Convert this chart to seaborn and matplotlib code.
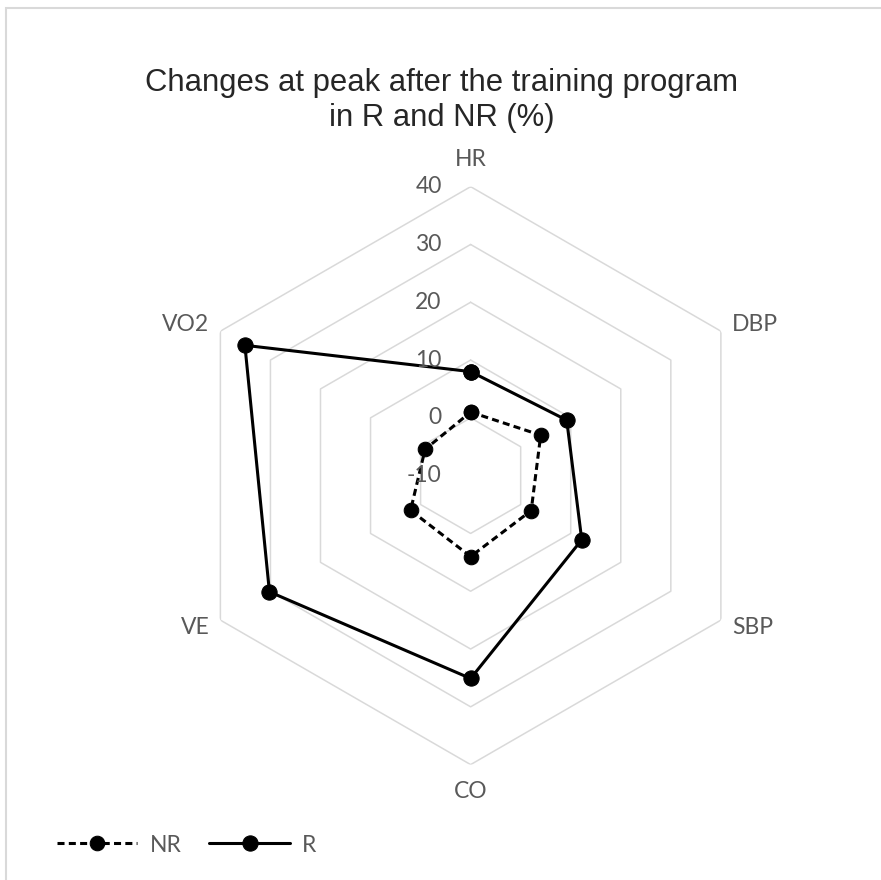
import numpy as np
import pandas as pd
import seaborn as sns
import matplotlib.pyplot as plt
from matplotlib.patches import Rectangle

# data (% change at peak)
categories = ['HR', 'DBP', 'SBP', 'CO', 'VE', 'VO2']
r_values = [8.0, 9.2, 12.2, 25.1, 30.2, 35.1]
nr_values = [1.0, 4.0, 2.1, 4.0, 2.0, -0.9]
ring_ticks = [0, 10, 20, 30, 40]
r_min = -10

sns.set_style('white')
plt.rcParams['font.family'] = ['Lato', 'DejaVu Sans']

grid_col = '#d9d9d9'
label_col = '#595959'
px = 72 / 100  # pixels -> points

fig = plt.figure(figsize=(8.81, 8.80), dpi=100)
ax = fig.add_axes([0.2062, 0.1311, 0.656, 0.6568], projection='polar')
ax.set_theta_offset(np.pi / 2)
ax.set_theta_direction(-1)

angles = np.linspace(0, 2 * np.pi, len(categories), endpoint=False)
closed_angles = np.append(angles, 2 * np.pi)

# hexagonal grid rings
for t in ring_ticks:
    ax.plot(closed_angles, [t] * len(closed_angles), color=grid_col, lw=1.1, zorder=1)

def closed(vals):
    return list(vals) + [vals[0]]

df = pd.DataFrame({
    'theta': np.concatenate([closed_angles, closed_angles]),
    'value': closed(nr_values) + closed(r_values),
    'group': ['NR'] * len(closed_angles) + ['R'] * len(closed_angles),
})

sns.lineplot(data=df[df.group == 'NR'], x='theta', y='value', sort=False, estimator=None,
             color='black', lw=2.2, linestyle=(0, (2.3, 1.4)), marker='o', markersize=10.5,
             markeredgecolor='black', label='NR', ax=ax, zorder=3)
sns.lineplot(data=df[df.group == 'R'], x='theta', y='value', sort=False, estimator=None,
             color='black', lw=2.2, marker='o', markersize=11,
             markeredgecolor='black', label='R', ax=ax, zorder=3)

ax.set_ylim(r_min, 40)
ax.grid(False)
ax.spines['polar'].set_visible(False)
ax.set_xticks([])
ax.set_yticks([])
ax.set_xlabel('')
ax.set_ylabel('')
ax.set_facecolor('none')

# radial tick labels along the HR axis
for t in [r_min] + ring_ticks:
    ax.annotate(str(t), xy=(0, t), xytext=(-29 * px, 0), textcoords='offset points',
                ha='right', va='center', fontsize=16.5, color=label_col)

# category labels, anchored just outside the outer ring vertices
for a, c in zip(angles, categories):
    s, co = np.sin(a), np.cos(a)
    if abs(s) < 0.1:
        ha, off = 'center', (0, 27 * px * np.sign(co))
    else:
        ha, off = ('left' if s > 0 else 'right'), (11 * px * np.sign(s), 7 * px * np.sign(co))
    ax.annotate(c, xy=(a, 40), xytext=off, textcoords='offset points',
                ha=ha, va='center', fontsize=16.5, color=label_col, annotation_clip=False)

ax.get_legend().remove()
handles, labels = ax.get_legend_handles_labels()
leg = fig.legend(handles, labels, loc='center left', bbox_to_anchor=(0.065, 1 - 845 / 880),
                 ncol=2, frameon=False, fontsize=16.5, handlelength=3.5,
                 handletextpad=0.55, columnspacing=1.2, borderaxespad=0, borderpad=0)
for txt in leg.get_texts():
    txt.set_color(label_col)

fig.text(0.501, 1 - 100.5 / 880, 'Changes at peak after the training program\nin R and NR (%)',
         ha='center', va='center', fontsize=22.3, family='Liberation Sans', linespacing=1.2)

# light frame (top and left edges visible)
fig.patches.append(Rectangle((6 / 881, -0.02), 1.0, 1 - 8 / 880 + 0.02, transform=fig.transFigure,
                             fill=False, edgecolor=grid_col, lw=1.5))

fig.savefig('out.png', dpi=100, facecolor='white')
